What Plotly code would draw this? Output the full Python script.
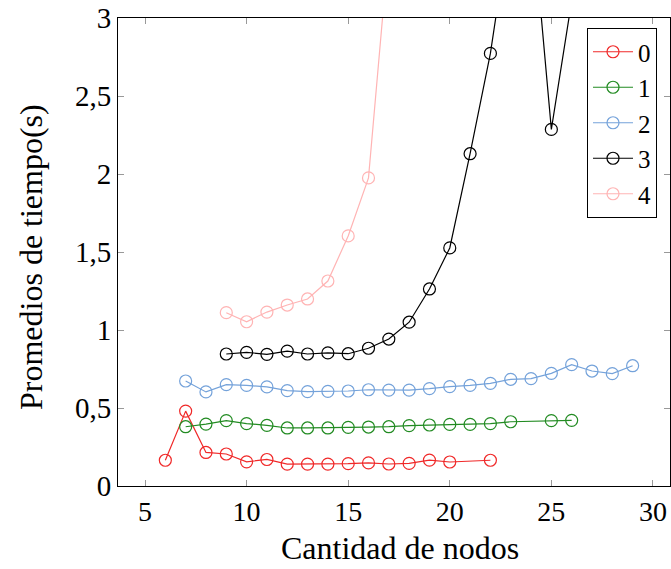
import plotly.graph_objects as go

x0 = [6, 7, 8, 9, 10, 11, 12, 13, 14, 15, 16, 17, 18, 19, 20, 22]
y0 = [0.165, 0.48, 0.215, 0.205, 0.155, 0.17, 0.14, 0.14, 0.14, 0.143, 0.148, 0.141, 0.145, 0.166, 0.154, 0.165]

x1 = [7, 8, 9, 10, 11, 12, 13, 14, 15, 16, 17, 18, 19, 20, 21, 22, 23, 25, 26]
y1 = [0.38, 0.397, 0.419, 0.40, 0.389, 0.372, 0.372, 0.372, 0.376, 0.378, 0.38, 0.387, 0.391, 0.395, 0.395, 0.40, 0.412, 0.419, 0.421]

x2 = list(range(7, 30))
y2 = [0.673, 0.603, 0.65, 0.645, 0.635, 0.611, 0.605, 0.607, 0.609, 0.617, 0.615,
      0.615, 0.624, 0.637, 0.645, 0.658, 0.684, 0.688, 0.722, 0.778, 0.737, 0.72, 0.771]

x3 = [9, 10, 11, 12, 13, 14, 15, 16, 17, 18, 19, 20, 21, 22, 23, 24, 25, 26]
y3 = [0.846, 0.857, 0.844, 0.865, 0.846, 0.853, 0.848, 0.883, 0.942, 1.05, 1.263, 1.526,
      2.13, 2.773, 3.64, 3.74, 2.286, 3.11]

x4 = [9, 10, 11, 12, 13, 14, 15, 16, 17]
y4 = [1.111, 1.053, 1.115, 1.16, 1.199, 1.314, 1.603, 1.975, 3.46]

names = ["0", "1", "2", "3", "4"]
colors = ["#f02828", "#228b22", "#74a2da", "#000000", "#ffb4b4"]

ytickvals = [0, 0.5, 1, 1.5, 2, 2.5, 3]
yticktext = ["0", "0,5", "1", "1,5", "2", "2,5", "3"]
xtickvals = [5, 10, 15, 20, 25, 30]

xtitle = "Cantidad de nodos"
ytitle = "Promedios de tiempo(s)"

FONT = "'Liberation Serif', 'DejaVu Serif', serif"

fig = go.Figure()
for xs, ys, n, c in zip([x0, x1, x2, x3, x4], [y0, y1, y2, y3, y4], names, colors):
    fig.add_trace(go.Scatter(
        x=xs, y=ys, name=n, mode="lines+markers",
        line=dict(color=c, width=1.2),
        marker=dict(symbol="circle-open", size=12, color=c, line=dict(color=c, width=1.2)),
        cliponaxis=True,
    ))

L, R, T, B = 118, 1, 18, 83
W, H = 671, 569
pw = W - L - R
ph = H - T - B

fig.update_layout(
    width=W, height=H,
    margin=dict(l=L, r=R, t=T, b=B),
    plot_bgcolor="white", paper_bgcolor="white",
    font=dict(family=FONT, size=28, color="black"),
    showlegend=True,
    legend=dict(
        x=(657 - L) / pw, y=1 - (28 - T) / ph, xanchor="right", yanchor="top",
        bordercolor="black", borderwidth=1, bgcolor="white",
        font=dict(family=FONT, size=25),
        itemwidth=40,
    ),
    xaxis=dict(
        range=[3.67, 30.84], tickvals=xtickvals,
        ticks="inside", ticklen=6, tickcolor="#999999", tickwidth=1,
        showline=True, linecolor="black", linewidth=1, mirror="allticks",
        showgrid=False, zeroline=False,
        tickfont=dict(family=FONT, size=28),
    ),
    yaxis=dict(
        range=[0, 3], tickvals=ytickvals, ticktext=yticktext,
        ticks="inside", ticklen=6, tickcolor="#999999", tickwidth=1,
        showline=True, linecolor="black", linewidth=1, mirror="allticks",
        showgrid=False, zeroline=False,
        tickfont=dict(family=FONT, size=29),
    ),
    annotations=[
        dict(text=xtitle, xref="paper", yref="paper", showarrow=False,
             x=(400 - L) / pw, y=-(548 - (T + ph)) / ph, xanchor="center", yanchor="middle",
             font=dict(family=FONT, size=32)),
        dict(text=ytitle, xref="paper", yref="paper", showarrow=False, textangle=-90,
             x=(31 - L) / pw, y=1 - (257 - T) / ph, xanchor="center", yanchor="middle",
             font=dict(family=FONT, size=32)),
    ],
)

fig.write_html("out.html")
